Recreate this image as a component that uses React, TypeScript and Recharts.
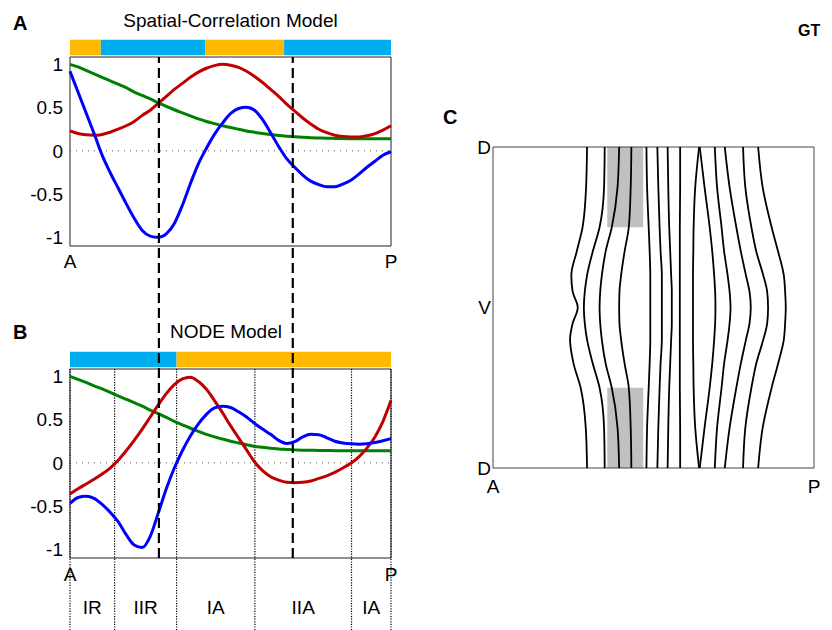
import React from 'react';
import { LineChart, Line, XAxis, YAxis, ReferenceLine, ReferenceArea } from 'recharts';

// positions along the A-P axis, 0 = A, 100 = P
const positions = [0, 2.5, 5, 7.5, 10, 12.5, 15, 17.5, 20, 22.5, 25, 27.5, 30, 32.5, 35, 37.5, 40, 42.5, 45, 47.5, 50, 52.5, 55, 57.5, 60, 62.5, 65, 67.5, 70, 72.5, 75, 77.5, 80, 82.5, 85, 87.5, 90, 92.5, 95, 97.5, 100];

// panel A: spatial-correlation model
const spatialGreen = [1.0, 0.97, 0.93, 0.89, 0.85, 0.81, 0.77, 0.73, 0.68, 0.64, 0.6, 0.555, 0.515, 0.475, 0.44, 0.405, 0.37, 0.34, 0.315, 0.29, 0.27, 0.25, 0.23, 0.215, 0.2, 0.188, 0.178, 0.17, 0.163, 0.157, 0.152, 0.149, 0.146, 0.144, 0.142, 0.141, 0.14, 0.14, 0.14, 0.14, 0.14];
const spatialRed = [0.23, 0.2, 0.185, 0.18, 0.19, 0.215, 0.25, 0.29, 0.34, 0.41, 0.47, 0.55, 0.63, 0.71, 0.78, 0.85, 0.91, 0.955, 0.985, 1.0, 0.99, 0.965, 0.92, 0.86, 0.79, 0.71, 0.63, 0.54, 0.46, 0.38, 0.31, 0.25, 0.21, 0.18, 0.165, 0.16, 0.16, 0.175, 0.2, 0.24, 0.29];
const spatialBlue = [0.92, 0.68, 0.44, 0.2, -0.05, -0.25, -0.43, -0.61, -0.78, -0.92, -0.985, -1.0, -0.96, -0.84, -0.63, -0.38, -0.15, 0.03, 0.19, 0.32, 0.43, 0.49, 0.505, 0.47, 0.36, 0.21, 0.05, -0.09, -0.19, -0.28, -0.35, -0.39, -0.415, -0.415, -0.385, -0.34, -0.27, -0.19, -0.12, -0.05, -0.01];

// panel B: NODE model
const nodeGreen = [1.0, 0.965, 0.93, 0.89, 0.855, 0.815, 0.775, 0.735, 0.695, 0.655, 0.61, 0.57, 0.525, 0.48, 0.44, 0.4, 0.365, 0.33, 0.3, 0.275, 0.25, 0.23, 0.21, 0.19, 0.18, 0.17, 0.16, 0.155, 0.15, 0.147, 0.145, 0.143, 0.142, 0.141, 0.14, 0.14, 0.14, 0.14, 0.14, 0.14, 0.14];
const nodeRed = [-0.36, -0.3, -0.245, -0.19, -0.13, -0.06, 0.03, 0.14, 0.26, 0.39, 0.53, 0.67, 0.8, 0.905, 0.97, 0.99, 0.94, 0.85, 0.72, 0.58, 0.43, 0.29, 0.15, 0.01, -0.09, -0.16, -0.2, -0.225, -0.23, -0.225, -0.21, -0.18, -0.15, -0.11, -0.06, -0.005, 0.07, 0.17, 0.3, 0.48, 0.72];
const nodeBlue = [-0.47, -0.4, -0.385, -0.41, -0.48, -0.57, -0.68, -0.83, -0.95, -0.98, -0.85, -0.58, -0.3, -0.06, 0.14, 0.31, 0.45, 0.56, 0.635, 0.655, 0.64, 0.59, 0.53, 0.455, 0.39, 0.33, 0.26, 0.225, 0.245, 0.3, 0.33, 0.325, 0.29, 0.25, 0.23, 0.22, 0.215, 0.22, 0.235, 0.255, 0.28];

// colour bars above the plots (R = blue, A = orange)
const spatialBands = [
  { from: 0, to: 9.6, kind: 'A' },
  { from: 9.6, to: 42.1, kind: 'R' },
  { from: 42.1, to: 66.7, kind: 'A' },
  { from: 66.7, to: 100, kind: 'R' },
];
const nodeBands = [
  { from: 0, to: 33.2, kind: 'R' },
  { from: 33.2, to: 100, kind: 'A' },
];

// dashed transitions running through both panels
const transitions = [27.7, 69.4];

// NODE model regions
const regionBounds = [0, 13.9, 33.2, 57.6, 87.7, 100];
const regionNames = ['IR', 'IIR', 'IA', 'IIA', 'IA'];

const yTicks = [-1, -0.5, 0, 0.5, 1];

// panel C: contour lines, x position (0 = A, 100 = P) at each D-V level
const levels = [1, 0.75, 0.5, 0.35, 0.2, 0.1, 0, -0.1, -0.2, -0.35, -0.5, -0.75, -1];
const contours = [
  [29.3, 29.0, 27.9, 26.1, 24.4, 24.8, 26.4, 24.8, 24.0, 25.1, 27.3, 28.9, 29.3],
  [34.8, 34.6, 33.2, 31.1, 29.3, 28.6, 28.3, 28.6, 29.3, 31.1, 33.2, 34.6, 34.8],
  [39.3, 38.8, 37.0, 35.1, 33.9, 33.4, 33.2, 33.4, 33.9, 35.1, 37.0, 38.8, 39.3],
  [43.1, 42.9, 42.3, 41.0, 39.9, 39.4, 39.3, 39.4, 39.9, 41.0, 42.3, 42.9, 43.1],
  [47.8, 48.0, 48.5, 48.8, 49.0, 49.0, 49.0, 49.0, 49.0, 48.8, 48.5, 48.0, 47.8],
  [51.2, 51.5, 51.9, 52.2, 52.6, 52.6, 52.6, 52.6, 52.6, 52.2, 51.9, 51.5, 51.2],
  [54.4, 54.6, 54.9, 55.2, 55.5, 55.7, 55.7, 55.7, 55.5, 55.2, 54.9, 54.6, 54.4],
  [58.3, 58.3, 58.2, 58.2, 58.2, 58.2, 58.2, 58.2, 58.2, 58.2, 58.2, 58.3, 58.3],
  [64.2, 63.0, 62.5, 62.4, 62.3, 62.3, 62.3, 62.3, 62.3, 62.4, 62.5, 63.0, 64.2],
  [64.4, 65.9, 67.5, 68.3, 68.9, 69.2, 69.3, 69.2, 68.9, 68.3, 67.5, 65.9, 64.4],
  [69.1, 69.8, 71.2, 72.0, 73.1, 73.7, 74.0, 73.7, 73.1, 72.0, 71.2, 69.8, 69.1],
  [72.2, 73.7, 75.8, 77.2, 78.8, 79.9, 80.3, 79.9, 78.8, 77.2, 75.8, 73.7, 72.2],
  [77.9, 78.6, 80.5, 82.0, 84.2, 85.4, 85.7, 85.4, 84.2, 82.0, 80.5, 78.6, 77.9],
  [82.6, 84.0, 86.8, 88.8, 90.6, 91.0, 91.2, 91.0, 90.6, 88.8, 86.8, 84.0, 82.6],
];
// shaded blocks in panel C
const shadedBlocks = [
  { from: 35.6, to: 46.8, top: 1, bottom: 0.5 },
  { from: 35.6, to: 46.8, top: -0.5, bottom: -1 },
];

const FONT = '"Liberation Sans", Arial, Helvetica, sans-serif';
const RED = '#c00000';
const GREEN = '#008000';
const BLUE = '#0000ff';
const BAND_COLORS: Record<string, string> = { A: '#ffb900', R: '#00aeef' };

const Y_MIN = -1.1;
const Y_MAX = 1.085;
const PX_PER_UNIT = 189 / (Y_MAX - Y_MIN);
const A_TOP = 57;
const B_TOP = 369;
const PAGE_H = 630;

const spatialData = positions.map((x, i) => ({ x, green: spatialGreen[i], red: spatialRed[i], blue: spatialBlue[i] }));
const nodeData = positions.map((x, i) => ({ x, green: nodeGreen[i], red: nodeRed[i], blue: nodeBlue[i] }));
const contourData = levels.map((level, i) => {
  const row: Record<string, number> = { level };
  contours.forEach((c, k) => { row[`c${k}`] = c[i]; });
  return row;
});

const tickStyle = { fill: '#000', fontSize: 19 };

function curves() {
  return [
    <Line key="g" dataKey="green" type="monotone" stroke={GREEN} strokeWidth={3} dot={false} isAnimationActive={false} />,
    <Line key="r" dataKey="red" type="monotone" stroke={RED} strokeWidth={3} dot={false} isAnimationActive={false} />,
    <Line key="b" dataKey="blue" type="monotone" stroke={BLUE} strokeWidth={3} dot={false} isAnimationActive={false} />,
  ];
}

function bands(list: { from: number; to: number; kind: string }[]) {
  return list.map((b, i) => (
    <ReferenceArea key={`band-${i}`} x1={b.from} x2={b.to} y1={Y_MAX + 0.02} y2={Y_MAX + 0.2}
      fill={BAND_COLORS[b.kind]} fillOpacity={1} stroke="none" ifOverflow="visible" />
  ));
}

// small inward tick marks on the right edge of the box
function rightTicks(domain: number[], ticks: number[]) {
  return (
    <YAxis yAxisId="inner" orientation="right" mirror type="number" domain={domain} allowDataOverflow ticks={ticks}
      interval={0} width={0} axisLine={false} tick={false} tickSize={5} tickLine={{ stroke: '#333' }} />
  );
}

function Text({ left, top, size = 19, bold = false, width, children }: any) {
  return (
    <div style={{ position: 'absolute', left, top, width, fontSize: size, lineHeight: `${size}px`, fontWeight: bold ? 700 : 400, textAlign: width ? 'center' : 'left', whiteSpace: 'nowrap' }}>
      {children}
    </div>
  );
}

export default function App() {
  const dashTop = Y_MAX + (B_TOP - A_TOP) / PX_PER_UNIT;
  const pageBottom = Y_MAX - (PAGE_H - B_TOP) / PX_PER_UNIT;
  const labelTop = Y_MAX - (584 - B_TOP) / PX_PER_UNIT;

  return (
    <div style={{ position: 'absolute', left: 0, top: 0, width: 832, height: 630, background: '#fff', fontFamily: FONT, color: '#000' }}>
      {/* Panel A */}
      <div style={{ position: 'absolute', left: 0, top: 0 }}>
        <LineChart width={420} height={300} data={spatialData} margin={{ top: A_TOP, right: 29, bottom: 24, left: 20 }}>
          <XAxis dataKey="x" type="number" domain={[0, 100]} ticks={[0, 100]} interval={0} tickFormatter={(v) => (v === 0 ? 'A' : 'P')}
            axisLine={false} tickLine={false} tickSize={0} tickMargin={9} height={30} tick={tickStyle} />
          <YAxis type="number" domain={[Y_MIN, Y_MAX]} allowDataOverflow ticks={yTicks} interval={0} width={50}
            axisLine={false} tickLine={false} tickSize={0} tickMargin={7} tick={tickStyle} />
          {rightTicks([Y_MIN, Y_MAX], yTicks)}
          {bands(spatialBands)}
          <ReferenceLine y={0} stroke="#555" strokeDasharray="1 5" />
          {curves()}
          <ReferenceArea x1={0} x2={100} y1={Y_MIN} y2={Y_MAX} fill="none" stroke="#222" strokeWidth={1} ifOverflow="visible" />
        </LineChart>
      </div>

      {/* Panel B, its svg spans the page height so the dashed lines can reach panel A */}
      <div style={{ position: 'absolute', left: 0, top: 0 }}>
        <LineChart width={420} height={PAGE_H} data={nodeData} margin={{ top: B_TOP, right: 29, bottom: PAGE_H - B_TOP - 189 - 30, left: 20 }}>
          <XAxis dataKey="x" type="number" domain={[0, 100]} ticks={[0, 100]} interval={0} tickFormatter={(v) => (v === 0 ? 'A' : 'P')}
            axisLine={false} tickLine={false} tickSize={0} tickMargin={10} height={30} tick={tickStyle} />
          <YAxis type="number" domain={[Y_MIN, Y_MAX]} allowDataOverflow ticks={yTicks} interval={0} width={50}
            axisLine={false} tickLine={false} tickSize={0} tickMargin={7} tick={tickStyle} />
          {rightTicks([Y_MIN, Y_MAX], yTicks)}
          {bands(nodeBands)}
          <ReferenceLine y={0} stroke="#555" strokeDasharray="1 5" />
          {regionBounds.map((x) => (
            <ReferenceLine key={`rb-${x}`} segment={[{ x, y: Y_MAX }, { x, y: pageBottom }]} stroke="#000" strokeWidth={1.2}
              strokeDasharray="1.2 1.4" ifOverflow="visible" />
          ))}
          {regionNames.map((name, i) => (
            <ReferenceArea key={`rn-${i}`} x1={regionBounds[i]} x2={regionBounds[i + 1]} y1={pageBottom} y2={labelTop}
              fill="none" stroke="none" ifOverflow="visible" label={{ value: name, position: 'center', fill: '#000', fontSize: 19 }} />
          ))}
          {curves()}
          <ReferenceArea x1={0} x2={100} y1={Y_MIN} y2={Y_MAX} fill="none" stroke="#222" strokeWidth={1} ifOverflow="visible" />
          {transitions.map((x) => (
            <ReferenceLine key={`tr-${x}`} segment={[{ x, y: Y_MIN }, { x, y: dashTop }]} stroke="#000" strokeWidth={2.2}
              strokeDasharray="10 5" ifOverflow="visible" />
          ))}
        </LineChart>
      </div>

      {/* Panel C */}
      <div style={{ position: 'absolute', left: 420, top: 100 }}>
        <LineChart width={412} height={430} data={contourData} layout="vertical" margin={{ top: 47, right: 18, bottom: 32, left: 43 }}>
          <XAxis type="number" domain={[0, 100]} ticks={[0, 100]} interval={0} tickFormatter={(v) => (v === 0 ? 'A' : 'P')}
            axisLine={false} tickLine={false} tickSize={0} tickMargin={12} height={30} tick={tickStyle} />
          <YAxis type="number" dataKey="level" domain={[-1, 1]} reversed allowDataOverflow ticks={[-1, 0, 1]} interval={0} width={30}
            tickFormatter={(v) => (v === 0 ? 'V' : 'D')} axisLine={false} tickLine={false} tickSize={0} tickMargin={2} tick={tickStyle} />
          {rightTicks([-1, 1], [0])}
          {shadedBlocks.map((b, i) => (
            <ReferenceArea key={`sh-${i}`} x1={b.from} x2={b.to} y1={b.bottom} y2={b.top} fill="#c0c0c0" fillOpacity={1} stroke="none" />
          ))}
          {contours.map((_, k) => (
            <Line key={`c${k}`} dataKey={`c${k}`} type="monotone" stroke="#000" strokeWidth={1.8} dot={false} isAnimationActive={false} />
          ))}
          <ReferenceArea x1={0} x2={100} y1={-1} y2={1} fill="none" stroke="#444" strokeWidth={1} ifOverflow="visible" />
        </LineChart>
      </div>

      <Text left={13} top={13} size={20} bold>A</Text>
      <Text left={0} top={11} width={461}>Spatial-Correlation Model</Text>
      <Text left={13} top={322} size={20} bold>B</Text>
      <Text left={126} top={322} width={200}>NODE Model</Text>
      <Text left={443} top={107} size={20} bold>C</Text>
      <Text left={798} top={23} size={16} bold>GT</Text>
    </div>
  );
}
